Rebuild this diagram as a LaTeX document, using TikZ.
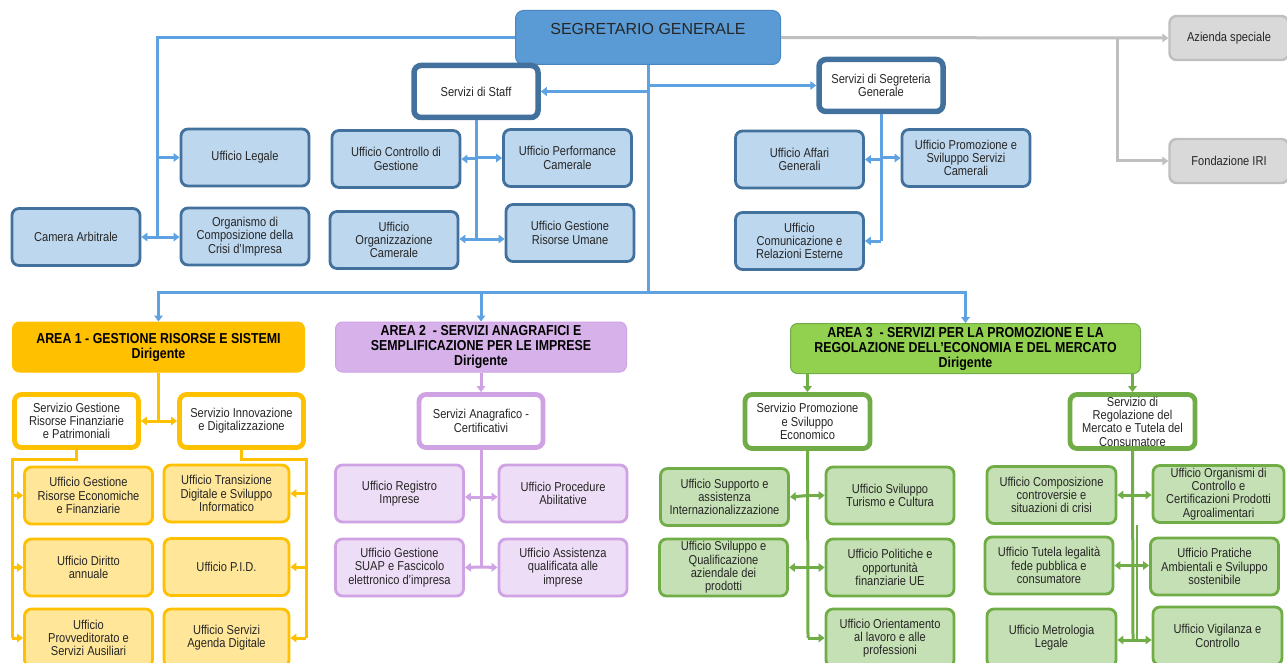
\documentclass[tikz,border=0pt]{standalone}
\usepackage{fontspec}
\setmainfont{Liberation Sans}[FakeStretch=0.86]
\newfontfamily\segfont{Liberation Sans}
\usetikzlibrary{arrows.meta}

\definecolor{segblue}{HTML}{5B9BD5}
\definecolor{segedge}{HTML}{4A86C0}
\definecolor{dblue}{HTML}{41719C}
\definecolor{lblue}{HTML}{BDD7EE}
\definecolor{cblue}{HTML}{5EA2E2}
\definecolor{gfill}{HTML}{D9D9D9}
\definecolor{gedge}{HTML}{BFBFBF}
\definecolor{aone}{HTML}{FFC000}
\definecolor{aonelight}{HTML}{FFE699}
\definecolor{atwo}{HTML}{D7B2EA}
\definecolor{atwoedge}{HTML}{CFA2E4}
\definecolor{atwolight}{HTML}{EEDDF6}
\definecolor{athree}{HTML}{92D050}
\definecolor{athreeedge}{HTML}{70AD47}
\definecolor{athreelight}{HTML}{C5E0B4}
\definecolor{txt}{HTML}{262626}

\begin{document}
\begin{tikzpicture}[x=1pt, y=-1pt,
    box/.style={draw, rounded corners=7pt, align=center, inner sep=2pt, text=txt,
      font=\fontsize{12.9}{13.3}\selectfont, minimum width=128pt, minimum height=57pt},
    ufficio/.style={box, fill=lblue, draw=dblue, line width=2.8pt},
    staffbox/.style={box, fill=white, draw=dblue, line width=5.5pt, minimum width=124pt, minimum height=52pt},
    greybox/.style={box, fill=gfill, draw=gedge, line width=2.4pt, minimum width=119pt, minimum height=44pt},
    areabox/.style={box, line width=1pt, text=black, minimum height=50pt,
      font=\bfseries\fontsize{14.4}{15}\selectfont},
    srvone/.style={box, fill=white, draw=aone, line width=4.8pt, minimum width=124pt, minimum height=53pt},
    uffone/.style={box, fill=aonelight, draw=aone, line width=2.8pt},
    srvtwo/.style={box, fill=white, draw=atwoedge, line width=4.8pt, minimum width=124pt, minimum height=53pt},
    ufftwo/.style={box, fill=atwolight, draw=atwoedge, line width=2.8pt},
    srvthree/.style={box, fill=white, draw=athreeedge, line width=4.8pt, minimum width=125pt, minimum height=54pt},
    uffthree/.style={box, fill=athreelight, draw=athreeedge, line width=2.8pt},
    tip/.style={-{Triangle[length=6pt,width=8.5pt]}},
    bline/.style={line width=3pt, draw=cblue},
    barrow/.style={bline, tip},
    gline/.style={line width=3pt, draw=gedge},
    garrow/.style={gline, tip},
    yline/.style={line width=3pt, draw=aone},
    yarrow/.style={yline, tip},
    pline/.style={line width=3pt, draw=atwoedge},
    parrow/.style={pline, tip},
    vline/.style={line width=3pt, draw=athreeedge},
    varrow/.style={vline, tip}]
    \useasboundingbox (0,0) rectangle (1287,663);
    \clip (0,0) rectangle (1287,663);

    % vertice
    \node[draw=segedge, fill=segblue, rounded corners=8pt, line width=1pt,
      minimum width=265pt, minimum height=54pt] (seg) at (648,37.5) {};
    \node[font=\segfont\fontsize{16}{18}\selectfont, text=txt] (segname)
      at ([yshift=-19pt]seg.north) {SEGRETARIO GENERALE};
    \node[staffbox] (staff) at (476,91.5) {Servizi di Staff};
    \node[staffbox] (segr) at (881,85.5) {Servizi di Segreteria\\Generale};
    \node[greybox] (azienda) at (1229,38) {Azienda speciale};
    \node[greybox] (fondazione) at (1229,161) {Fondazione IRI};

    \node[ufficio] (legale) at (245,157.5) {Ufficio Legale};
    \node[ufficio] (camera) at (76,237) {Camera Arbitrale};
    \node[ufficio] (organismo) at (245,236.5) {Organismo di\\Composizione della\\Crisi d'Impresa};
    \node[ufficio] (controllo) at (396,159) {Ufficio Controllo di\\Gestione};
    \node[ufficio] (performance) at (567.5,158) {Ufficio Performance\\Camerale};
    \node[ufficio] (organizzazione) at (394,240) {Ufficio\\Organizzazione\\Camerale};
    \node[ufficio] (umane) at (570,233) {Ufficio Gestione\\Risorse Umane};
    \node[ufficio] (affari) at (799.5,159.5) {Ufficio Affari\\Generali};
    \node[ufficio] (promoserv) at (966,158) {Ufficio Promozione e\\Sviluppo Servizi\\Camerali};
    \node[ufficio] (comunicazione) at (799.5,241) {Ufficio\\Comunicazione e\\Relazioni Esterne};

    \coordinate (jl) at (157,237);
    \coordinate (jm) at (648,292);
    \coordinate (jst) at (476,239);
    \coordinate (jsg) at (881,241);
    \coordinate (jg) at (1117,37.5);

    \draw[bline] (seg.west) -| (jl);
    \draw[barrow] (jl |- legale.west) -- (legale.west);
    \draw[barrow] (jl) -- (camera.east);
    \draw[barrow] (jl) -- (jl -| organismo.west);
    \draw[bline] (seg.south) -- (jm);
    \draw[barrow] (seg.south |- staff.east) -- (staff.east);
    \draw[barrow] (seg.south |- segr.west) -- (segr.west);
    \draw[bline] (staff.south) -- (jst);
    \draw[barrow] (jst |- controllo.east) -- (controllo.east);
    \draw[barrow] (jst |- performance.west) -- (performance.west);
    \draw[barrow] (jst) -- (jst -| organizzazione.east);
    \draw[barrow] (jst) -- (jst -| umane.west);
    \draw[bline] (segr.south) -- (jsg);
    \draw[barrow] (jsg |- affari.east) -- (affari.east);
    \draw[barrow] (jsg |- promoserv.west) -- (promoserv.west);
    \draw[barrow] (jsg) -- (jsg -| comunicazione.east);
    \draw[garrow] (seg.east) -- (azienda.west);
    \draw[garrow] (jg) |- (fondazione.west);

    % aree
    \node[areabox, fill=aone, draw=aone, minimum width=292pt] (area1) at (158.5,347)
      {AREA 1 - GESTIONE RISORSE E SISTEMI\\Dirigente};
    \node[areabox, fill=atwo, draw=atwoedge, minimum width=291pt] (area2) at (481,347)
      {AREA 2 \ - SERVIZI ANAGRAFICI E\\SEMPLIFICAZIONE PER LE IMPRESE\\Dirigente};
    \node[areabox, fill=athree, draw=athreeedge, minimum width=350pt] (area3) at (965.5,348.5)
      {AREA 3 \ - SERVIZI PER LA PROMOZIONE E LA\\REGOLAZIONE DELL'ECONOMIA E DEL MERCATO\\Dirigente};
    \draw[barrow] (jm) -| (area1.north);
    \draw[barrow] (jm) -| (area3.north);
    \draw[barrow] (jm -| area2.north) -- (area2.north);

    % area 1
    \node[srvone] (gestsrv) at (76.5,421) {Servizio Gestione\\Risorse Finanziarie\\e Patrimoniali};
    \node[srvone] (innov) at (241.5,421) {Servizio Innovazione\\e Digitalizzazione};
    \node[uffone] (eco) at (88.5,495.5) {Ufficio Gestione\\Risorse Economiche\\e Finanziarie};
    \node[uffone] (diritto) at (88.5,567.5) {Ufficio Diritto\\annuale};
    \node[uffone, minimum height=58pt] (provv) at (88.5,638) {Ufficio\\Provveditorato e\\Servizi Ausiliari};
    \node[uffone, minimum width=125pt] (transizione) at (226.5,493.5) {Ufficio Transizione\\Digitale e Sviluppo\\Informatico};
    \node[uffone, minimum width=125pt] (pid) at (226.5,567) {Ufficio P.I.D.};
    \node[uffone, minimum width=125pt, minimum height=58pt] (agenda) at (226.5,638) {Ufficio Servizi\\Agenda Digitale};

    \coordinate (ja1) at (158.5,421);
    \coordinate (a1l) at (12,638);
    \coordinate (a1r) at (306,638);
    \draw[yline] (area1.south) -- (ja1);
    \draw[yarrow] (ja1) -- (gestsrv.east);
    \draw[yarrow] (ja1) -- (innov.west);
    \draw[yline] (gestsrv.south) -- ++(0,10) -| (a1l);
    \draw[yarrow] (a1l |- eco.west) -- (eco.west);
    \draw[yarrow] (a1l |- diritto.west) -- (diritto.west);
    \draw[yarrow] (a1l) -- (provv.west);
    \draw[yline] (innov.south) -- ++(0,10) -| (a1r);
    \draw[yarrow] (a1r |- transizione.east) -- (transizione.east);
    \draw[yarrow] (a1r |- pid.east) -- (pid.east);
    \draw[yarrow] (a1r) -- (agenda.east);

    % area 2
    \node[srvtwo] (anag) at (481,421) {Servizi Anagrafico -\\Certificativi};
    \node[ufftwo] (registro) at (399.5,493.5) {Ufficio Registro\\Imprese};
    \node[ufftwo] (procedure) at (563,493.5) {Ufficio Procedure\\Abilitative};
    \node[ufftwo] (suap) at (399.5,567.5) {Ufficio Gestione\\SUAP e Fascicolo\\elettronico d'impresa};
    \node[ufftwo] (assistenza) at (563,567.5) {Ufficio Assistenza\\qualificata alle\\imprese};

    \coordinate (ja2) at (481,497);
    \coordinate (a2b) at (481,567);
    \draw[parrow] (area2.south) -- (anag.north);
    \draw[pline] (anag.south) -- (a2b);
    \draw[parrow] (ja2) -- (ja2 -| registro.east);
    \draw[parrow] (ja2) -- (ja2 -| procedure.west);
    \draw[parrow] (a2b) -- (suap.east);
    \draw[parrow] (a2b) -- (assistenza.west);

    % area 3
    \node[srvthree] (promo) at (807.5,421.5) {Servizio Promozione\\e Sviluppo\\Economico};
    \node[srvthree] (reg) at (1132.5,421.5) {Servizio di\\Regolazione del\\Mercato e Tutela del\\Consumatore};
    \node[uffthree] (supporto) at (724.5,497) {Ufficio Supporto e\\assistenza\\Internazionalizzazione};
    \node[uffthree] (qualif) at (723.5,567.5) {Ufficio Sviluppo e\\Qualificazione\\aziendale dei\\prodotti};
    \node[uffthree] (turismo) at (890,495.5) {Ufficio Sviluppo\\Turismo e Cultura};
    \node[uffthree] (politiche) at (890,567.5) {Ufficio Politiche e\\opportunità\\finanziarie UE};
    \node[uffthree, minimum height=58pt] (orient) at (890,638) {Ufficio Orientamento\\al lavoro e alle\\professioni};
    \node[uffthree, minimum width=129pt] (composizione) at (1051.5,495) {Ufficio Composizione\\controversie e\\situazioni di crisi};
    \node[uffthree, minimum width=131pt] (organismi) at (1218.5,494) {Ufficio Organismi di\\Controllo e\\Certificazioni Prodotti\\Agroalimentari};
    \node[uffthree] (tutela) at (1049,565.5) {Ufficio Tutela legalità\\fede pubblica e\\consumatore};
    \node[uffthree] (pratiche) at (1214.5,566.5) {Ufficio Pratiche\\Ambientali e Sviluppo\\sostenibile};
    \node[uffthree, minimum width=129pt, minimum height=58pt] (metrologia) at (1051.5,638) {Ufficio Metrologia\\Legale};
    \node[uffthree, minimum width=129pt, minimum height=58pt] (vigilanza) at (1217.5,636) {Ufficio Vigilanza e\\Controllo};

    \coordinate (a3p) at (808,638);
    \coordinate (a3r) at (1133,640);
    \draw[varrow] (area3.south -| promo.north) -- (promo.north);
    \draw[varrow] (area3.south -| reg.north) -- (reg.north);
    \draw[vline] (promo.south) -- (a3p);
    \draw[varrow] (a3p |- turismo.west) -- (supporto.east);
    \draw[varrow] (a3p |- turismo.west) -- (turismo.west);
    \draw[varrow] (a3p |- politiche.west) -- (qualif.east);
    \draw[varrow] (a3p |- politiche.west) -- (politiche.west);
    \draw[varrow] (a3p) -- (orient.west);
    \draw[vline] (reg.south) -- (a3r);
    \draw[vline, line width=2pt] ([xshift=4pt]a3r |- composizione.south) -- ([xshift=4pt]a3r);
    \draw[varrow] (a3r |- composizione.east) -- (composizione.east);
    \draw[varrow] (a3r |- composizione.east) -- (composizione.east -| organismi.west);
    \draw[varrow] (a3r |- tutela.east) -- (tutela.east);
    \draw[varrow] (a3r |- tutela.east) -- (tutela.east -| pratiche.west);
    \draw[varrow] (a3r) -- (a3r -| metrologia.east);
    \draw[varrow] (a3r) -- (a3r -| vigilanza.west);
\end{tikzpicture}
\end{document}
